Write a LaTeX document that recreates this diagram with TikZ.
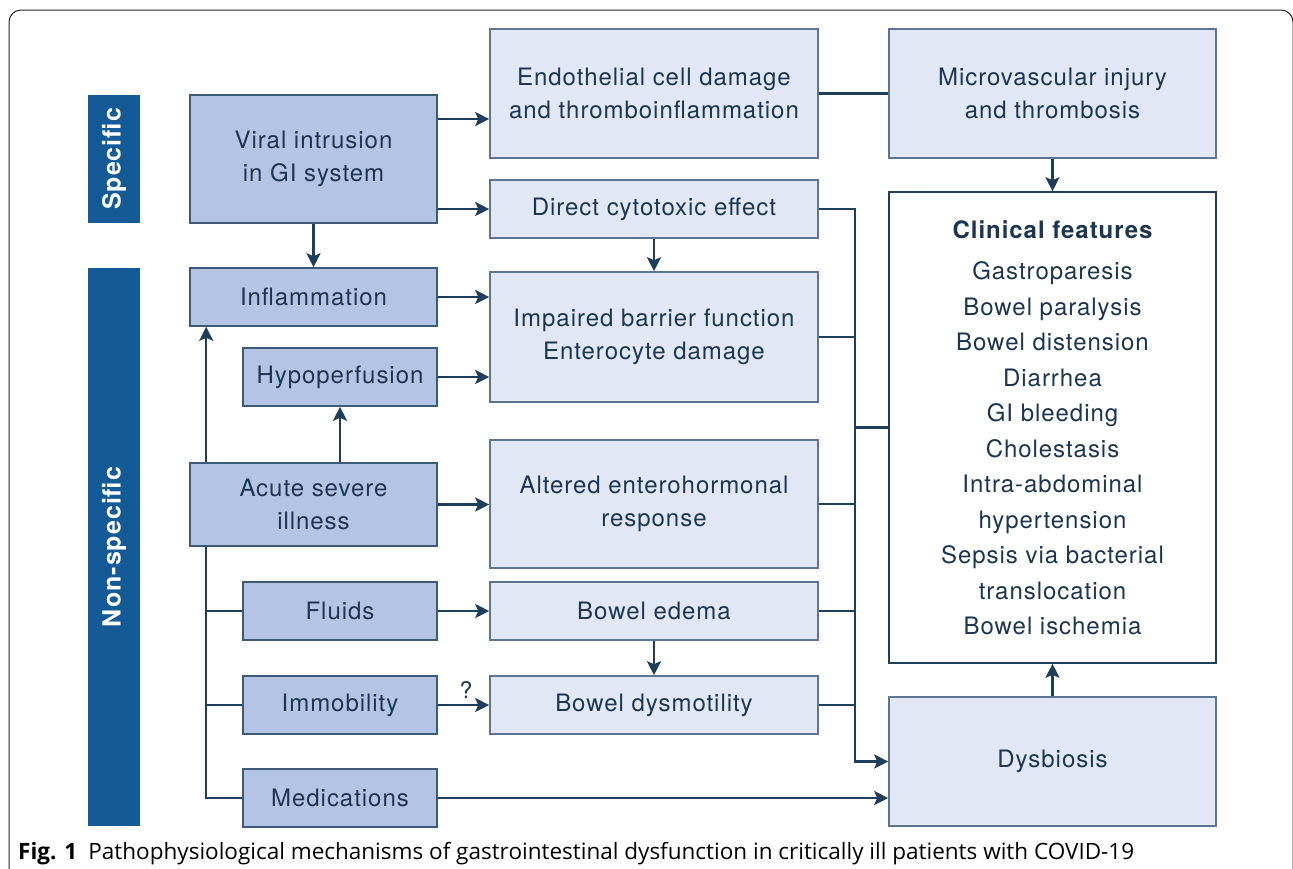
\documentclass[tikz,border=0pt]{standalone}
\usepackage{fontspec}
\setmainfont{TeX Gyre Heros}[LetterSpace=4]
\newfontfamily\capfont{Open Sans}
\usetikzlibrary{arrows.meta,calc}
\definecolor{barblue}{HTML}{135A96}
\definecolor{midfill}{HTML}{B4C4E4}
\definecolor{midline}{HTML}{3E5A78}
\definecolor{lightfill}{HTML}{E2E7F5}
\definecolor{lightline}{HTML}{5D7590}
\definecolor{txt}{HTML}{1C3550}
\definecolor{conn}{HTML}{1F3E5C}
\begin{document}
\begin{tikzpicture}[x=1pt,y=-1pt,
  base/.style={inner sep=0pt, align=center, text=txt, font=\fontsize{24}{33}\selectfont, line width=1.6pt},
  mbox/.style={base, fill=midfill, draw=midline},
  lbox/.style={base, fill=lightfill, draw=lightline},
  wbox/.style={base, fill=white, draw=conn},
  bar/.style={fill=barblue, inner sep=0pt, text=white, font=\fontsize{25}{28}\selectfont\bfseries, rotate=90},
  conline/.style={draw=conn, line width=2.3pt},
  arr/.style={conline, -{Stealth[length=14pt,width=14pt,inset=3pt]}}
]
\useasboundingbox (0,0) rectangle (1293,868);
% frame
\draw[line width=1pt, black!85, rounded corners=12pt] (9,890) -- (9,10) -- (1293,10) -- (1293,890);

% side bars
\node[bar, minimum width=128pt, minimum height=52pt] (spec) at (114,159) {Specific};
\node[bar, minimum width=558pt, minimum height=52pt] (nonspec) at (114,547) {Non-specific};

% left column
\node[mbox, minimum width=247pt, minimum height=128pt] (viral) at (313.5,159) {Viral intrusion\\in GI system};
\node[mbox, minimum width=247pt, minimum height=58pt] (infl) at (313.5,297) {Inflammation};
\node[mbox, minimum width=194pt, minimum height=58pt] (hypo) at (340,377) {Hypoperfusion};
\node[mbox, minimum width=247pt, minimum height=83pt] (acute) at (313.5,504.5) {Acute severe\\illness};
\node[mbox, minimum width=194pt, minimum height=58pt] (fluids) at (340,611) {Fluids};
\node[mbox, minimum width=194pt, minimum height=58pt] (immob) at (340,705) {Immobility};
\node[mbox, minimum width=194pt, minimum height=58pt] (medic) at (340,798) {Medications};

% middle column
\node[lbox, minimum width=328pt, minimum height=129pt] (endo) at (654,93.5) {Endothelial cell damage\\and thromboinflammation};
\node[lbox, minimum width=328pt, minimum height=58pt] (direct) at (654,209) {Direct cytotoxic effect};
\node[lbox, minimum width=328pt, minimum height=130pt] (impaired) at (654,337) {Impaired barrier function\\Enterocyte damage};
\node[lbox, minimum width=328pt, minimum height=128pt] (altered) at (654,504) {Altered enterohormonal\\response};
\node[lbox, minimum width=328pt, minimum height=58pt] (edema) at (654,611) {Bowel edema};
\node[lbox, minimum width=328pt, minimum height=58pt] (dysmot) at (654,705) {Bowel dysmotility};

% right column
\node[lbox, minimum width=327pt, minimum height=129pt] (micro) at (1052.5,93.5) {Microvascular injury\\and thrombosis};
\node[wbox, minimum width=327pt, minimum height=471pt] (clin) at (1052.5,427.5) {};
\node[base, font=\fontsize{24}{33}\selectfont\bfseries, anchor=base] (clintitle) at (1052.5,238) {Clinical features};
\node[base, font=\fontsize{24}{35.5}\selectfont, anchor=north] (clinlist) at (1052.5,261) {Gastroparesis\\Bowel paralysis\\Bowel distension\\Diarrhea\\GI bleeding\\Cholestasis\\Intra-abdominal\\hypertension\\Sepsis via bacterial\\translocation\\Bowel ischemia};
\node[lbox, minimum width=327pt, minimum height=129pt] (dysb) at (1052.5,761.5) {Dysbiosis};

% connectors
\draw[arr] ([yshift=40pt]viral.east) coordinate (a1) -- (a1 -| endo.west);
\draw[arr] ([yshift=-50pt]viral.east) coordinate (a2) -- (a2 -| direct.west);
\draw[arr] (viral.south) -- (infl.north);
\draw[conline] (endo.east) -- (micro.west);
\draw[arr] (micro.south) -- (clin.north);
\draw[arr] (direct.south) -- (impaired.north);
\draw[arr] (infl.east) -- (infl.east -| impaired.west);
\draw[arr] (hypo.east) -- (hypo.east -| impaired.west);
\draw[arr] (hypo.south |- acute.north) -- (hypo.south);
\draw[arr] ([xshift=17pt]acute.north west) coordinate (b1) -- (b1 |- infl.south);
\draw[arr] (acute.east) -- (acute.east -| altered.west);
\draw[conline] ([xshift=17pt]acute.south west) coordinate (c1) -- (c1 |- medic.west) -- (medic.west);
\draw[conline] (c1 |- fluids.west) -- (fluids.west);
\draw[conline] (c1 |- immob.west) -- (immob.west);
\draw[arr] (fluids.east) -- (fluids.east -| edema.west);
\draw[arr] (immob.east) -- node[pos=0.55, above=2pt, text=txt, font=\fontsize{23}{24}\selectfont] (q) {?} (immob.east -| dysmot.west);
\draw[arr] (edema.south) -- (dysmot.north);
\draw[arr] (medic.east) -- (medic.east -| dysb.west);
\coordinate (col) at (855,0);
\draw[arr] (direct.east) -- (direct.east -| col) -- (col |- dysb.west) -- (dysb.west);
\draw[conline] (impaired.east) -- (impaired.east -| col);
\draw[conline] (altered.east) -- (altered.east -| col);
\draw[conline] (edema.east) -- (edema.east -| col);
\draw[conline] (dysmot.east) -- (dysmot.east -| col);
\draw[conline] (col |- clin.west) -- (clin.west);
\draw[arr] (dysb.north) -- (clin.south);

% caption
\node[anchor=base west, inner sep=0pt, text=black, font=\capfont\fontsize{22.5}{24}\selectfont] (cap) at (18,859) {\textbf{Fig. 1}\hspace{0.5em}Pathophysiological mechanisms of gastrointestinal dysfunction in critically ill patients with COVID-19};
\end{tikzpicture}
\end{document}
